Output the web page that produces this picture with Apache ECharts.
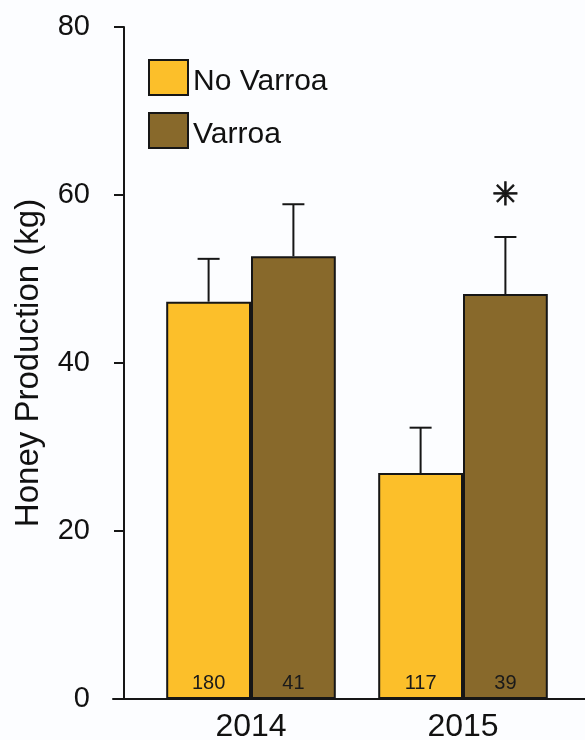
<!DOCTYPE html>
<html>
<head>
<meta charset="utf-8">
<script src="https://cdn.jsdelivr.net/npm/echarts@6/dist/echarts.min.js"></script>
<style>
html,body{margin:0;padding:0;background:#FCFDFF;}
#chart{width:585px;height:740px;}
</style>
</head>
<body>
<div id="chart"></div>
<script>
const years = ['2014', '2015'];
const noVarroa = [47.3, 26.9];
const varroa = [52.7, 48.2];
const noVarroaErrTop = [52.4, 32.3];
const varroaErrTop = [58.9, 55.0];
const noVarroaN = ['180', '117'];
const varroaN = ['41', '39'];
const varroaSig = ['', '✳'];
const yTicks = [0, 20, 40, 60, 80];

const FONT = 'Liberation Sans, Arial, Helvetica, sans-serif';
const C_NO = '#FCBF2A';
const C_V = '#88692B';

function errSeries(values, tops, side, sig) {
  return {
    type: 'custom',
    xAxisIndex: 0, yAxisIndex: 0,
    z: 5,
    silent: true,
    data: values.map((v, i) => [i, v, tops[i]]),
    renderItem: function (params, api) {
      const idx = api.value(0);
      const base = api.coord([idx, api.value(1)]);
      const tp = api.coord([idx, api.value(2)]);
      const band = api.size([1, 0])[0];
      const x = base[0] + side * band * 0.8 / 4;
      const st = { stroke: '#161616', lineWidth: 2 };
      const children = [
        { type: 'line', shape: { x1: x, y1: base[1], x2: x, y2: tp[1] }, style: st },
        { type: 'line', shape: { x1: x - 11, y1: tp[1], x2: x + 11, y2: tp[1] }, style: st }
      ];
      if (sig && sig[params.dataIndex]) {
        children.push({
          type: 'text',
          style: {
            text: sig[params.dataIndex], x: x, y: tp[1] - 40,
            align: 'center', verticalAlign: 'middle',
            fontFamily: 'DejaVu Sans', fontWeight: 'bold', fontSize: 32, fill: '#161616',
            stroke: '#161616', lineWidth: 0.8
          }
        });
      }
      return { type: 'group', children: children };
    }
  };
}

const chart = echarts.init(document.getElementById('chart'), null, { renderer: 'canvas' });
chart.setOption({
  backgroundColor: '#FCFDFF',
  animation: false,
  textStyle: { fontFamily: FONT },
  legend: {
    data: ['No Varroa', 'Varroa'],
    orient: 'vertical',
    left: 143, top: 54,
    itemWidth: 39, itemHeight: 35, itemGap: 15,
    icon: 'rect',
    formatter: '{t|{name}}',
    textStyle: {
      fontSize: 30, color: '#111', fontFamily: FONT,
      rich: { t: { fontSize: 30, color: '#111', fontFamily: FONT, padding: [9, 0, 0, 0] } }
    }
  },
  grid: [
    { left: 145, right: 16, top: 27, bottom: 41, outerBoundsMode: 'none', containLabel: false },
    { left: 113, right: 0, top: 27, bottom: 41, outerBoundsMode: 'none', containLabel: false }
  ],
  xAxis: [
    {
      type: 'category', gridIndex: 0, data: years,
      axisLine: { show: false },
      axisTick: { show: false },
      axisLabel: { fontSize: 32, color: '#111', margin: 12, fontFamily: FONT }
    },
    {
      type: 'value', gridIndex: 1, min: 0, max: 1,
      axisLine: { show: true, lineStyle: { color: '#161616', width: 2 } },
      axisTick: { show: false }, axisLabel: { show: false }, splitLine: { show: false }
    }
  ],
  yAxis: [
    {
      type: 'value', gridIndex: 0, min: yTicks[0], max: yTicks[yTicks.length - 1], interval: 20,
      offset: 21,
      name: 'Honey Production (kg)', nameLocation: 'middle', nameGap: 79,
      nameTextStyle: { fontSize: 33, color: '#111', fontFamily: FONT },
      axisLine: { show: true, lineStyle: { color: '#161616', width: 2 } },
      axisTick: { show: true, length: 10, lineStyle: { color: '#161616', width: 2 } },
      axisLabel: { fontSize: 29, color: '#111', margin: 34, fontFamily: FONT },
      splitLine: { show: false }
    },
    { type: 'value', gridIndex: 1, show: false }
  ],
  series: [
    {
      name: 'No Varroa', type: 'bar', data: noVarroa,
      barGap: '0%', barCategoryGap: '20%',
      itemStyle: { color: C_NO, borderColor: '#161616', borderWidth: 2 },
      label: {
        show: true, position: 'insideBottom', distance: 6,
        formatter: p => noVarroaN[p.dataIndex],
        fontSize: 20, color: '#1a1a1a', fontFamily: FONT
      }
    },
    {
      name: 'Varroa', type: 'bar', data: varroa,
      barGap: '0%', barCategoryGap: '20%',
      itemStyle: { color: C_V, borderColor: '#161616', borderWidth: 2 },
      label: {
        show: true, position: 'insideBottom', distance: 6,
        formatter: p => varroaN[p.dataIndex],
        fontSize: 20, color: '#1a1a1a', fontFamily: FONT
      }
    },
    errSeries(noVarroa, noVarroaErrTop, -1, null),
    errSeries(varroa, varroaErrTop, 1, varroaSig)
  ]
});
</script>
</body>
</html>
